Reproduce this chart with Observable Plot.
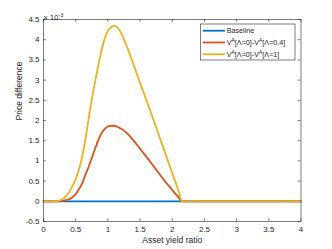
<!DOCTYPE html>
<html>
<head>
<meta charset="utf-8">
<script src="https://cdn.jsdelivr.net/npm/d3@7"></script>
<script src="https://cdn.jsdelivr.net/npm/@observablehq/plot@0.6"></script>
<style>
  html, body { margin: 0; padding: 0; background: white; }
</style>
</head>
<body>
<div id="chart"></div>
<script>
// ---- data (values in units of 1e-3) ----
const seriesNames = ["Baseline", "V^A[Λ=0]-V^A[Λ=0.4]", "V^A[Λ=0]-V^A[Λ=1]"];
const seriesColors = ["#0072BD", "#D95319", "#EDB120"];

const baselineX = [0, 1, 2, 3, 4];
const baselineY = [0, 0, 0, 0, 0];

const red04X = [0, 0.2, 0.3, 0.35, 0.4, 0.45, 0.5, 0.55, 0.6, 0.65, 0.7, 0.75, 0.8, 0.85, 0.9, 0.95, 1.0, 1.05, 1.1, 1.15, 1.2, 1.25, 1.3, 1.4, 1.5, 1.6, 1.7, 1.8, 1.9, 2.0, 2.1, 2.15, 3, 4];
const red04Y = [0, 0, 0.01, 0.03, 0.05, 0.10, 0.18, 0.30, 0.44, 0.65, 0.85, 1.07, 1.30, 1.51, 1.68, 1.79, 1.85, 1.87, 1.87, 1.84, 1.80, 1.75, 1.68, 1.50, 1.30, 1.10, 0.89, 0.68, 0.47, 0.28, 0.09, 0, 0, 0];

const yel1X = [0, 0.1, 0.2, 0.25, 0.3, 0.35, 0.4, 0.45, 0.5, 0.55, 0.6, 0.65, 0.7, 0.75, 0.8, 0.85, 0.9, 0.95, 1.0, 1.05, 1.1, 1.15, 1.2, 1.25, 1.3, 1.35, 1.4, 1.5, 1.6, 1.7, 1.8, 1.9, 2.0, 2.1, 2.15, 3, 4];
const yel1Y = [0, 0, 0.005, 0.02, 0.06, 0.13, 0.23, 0.38, 0.55, 0.78, 1.10, 1.52, 2.03, 2.52, 2.95, 3.35, 3.72, 4.02, 4.22, 4.31, 4.34, 4.30, 4.18, 4.01, 3.81, 3.60, 3.38, 2.93, 2.50, 2.05, 1.60, 1.15, 0.70, 0.25, 0, 0, 0];

const xTicks = [0, 0.5, 1, 1.5, 2, 2.5, 3, 3.5, 4];
const yTicks = [-0.5, 0, 0.5, 1, 1.5, 2, 2.5, 3, 3.5, 4, 4.5];
const xLabel = "Asset yield ratio";
const yLabel = "Price difference";
const exponentBase = "× 10";
const exponentPow = "-3";

// ---- build tables ----
const toRows = (xs, ys) => xs.map((x, i) => ({x, y: ys[i]}));
const series = [toRows(baselineX, baselineY), toRows(red04X, red04Y), toRows(yel1X, yel1Y)];

const xMin = 0, xMax = 4, yMin = -0.5, yMax = 4.5;
const tickLenY = 0.07;   // in y data units
const tickLenX = 0.045;  // in x data units
const ink = "#262626";
const font = "'Liberation Sans', Arial, Helvetica, sans-serif";

const chart = Plot.plot({
  width: 332,
  height: 249,
  marginLeft: 43,
  marginRight: 31.5,
  marginTop: 19,
  marginBottom: 28,
  style: {fontFamily: font, fontSize: "8px", color: ink, background: "white", overflow: "visible"},
  x: {domain: [xMin, xMax]},
  y: {domain: [yMin, yMax]},
  marks: [
    Plot.axisX(xTicks, {tickSize: 0, tickPadding: 5, tickFormat: d => String(d), label: null, fill: ink}),
    Plot.axisY(yTicks, {tickSize: 0, tickPadding: 4, tickFormat: d => String(d), label: null, fill: ink}),
    Plot.ruleX(xTicks, {x: d => d, y1: yMin, y2: yMin + tickLenY, stroke: ink, strokeWidth: 0.6}),
    Plot.ruleX(xTicks, {x: d => d, y1: yMax, y2: yMax - tickLenY, stroke: ink, strokeWidth: 0.6}),
    Plot.ruleY(yTicks, {y: d => d, x1: xMin, x2: xMin + tickLenX, stroke: ink, strokeWidth: 0.6}),
    Plot.ruleY(yTicks, {y: d => d, x1: xMax, x2: xMax - tickLenX, stroke: ink, strokeWidth: 0.6}),
    ...series.map((rows, i) => Plot.line(rows, {x: "x", y: "y", stroke: seriesColors[i], strokeWidth: 1.8, curve: "monotone-x"})),
    Plot.frame({stroke: ink, strokeWidth: 0.6}),
    Plot.text([xLabel], {frameAnchor: "bottom", dy: 21, fill: ink, fontSize: 8.5}),
    Plot.text([yLabel], {frameAnchor: "left", dx: -24, rotate: -90, fill: ink, fontSize: 8.5}),
    Plot.text([exponentBase], {frameAnchor: "top-left", dy: -5, dx: 0, textAnchor: "start", fill: ink, fontSize: 7.5, className: "expo"})
  ]
});

document.getElementById("chart").appendChild(chart);

// exponent superscript
const svg = d3.select(chart);
svg.selectAll(".expo text").each(function() {
  const t = d3.select(this);
  t.append("tspan").attr("dy", "-3").attr("font-size", 5.5).text(exponentPow);
});

// ---- legend ----
const lg = svg.append("g").attr("transform", "translate(200.5,24)")
  .attr("font-family", font).attr("font-size", 7.2).attr("text-anchor", "start");
lg.append("rect").attr("x", 0).attr("y", 0).attr("width", 94.5).attr("height", 36)
  .style("fill", "white").style("stroke", ink).style("stroke-width", "0.6px");
seriesNames.forEach((name, i) => {
  const cy = 6.7 + i * 11.8;
  lg.append("line").attr("x1", 2.2).attr("x2", 24.5).attr("y1", cy).attr("y2", cy)
    .style("stroke", seriesColors[i]).style("stroke-width", "1.8px");
  const t = lg.append("text").attr("x", 26.2).attr("y", cy).attr("dy", "0.35em")
    .style("fill", ink).style("text-anchor", "start");
  const parts = name.split("^A");
  parts.forEach((p, j) => {
    if (j > 0) {
      t.append("tspan").attr("dy", -3).attr("font-size", 5).text("A");
      t.append("tspan").attr("dy", 3).text(p);
    } else {
      t.append("tspan").text(p);
    }
  });
});
</script>
</body>
</html>
